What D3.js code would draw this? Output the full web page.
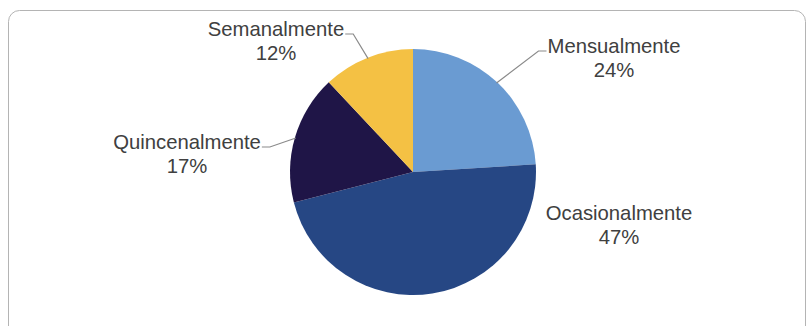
<!DOCTYPE html>
<html>
<head>
<meta charset="utf-8">
<script src="https://cdn.jsdelivr.net/npm/d3@7"></script>
<style>
  html, body { margin: 0; padding: 0; background: #fff; }
  svg { display: block; }
</style>
</head>
<body>
<svg id="chart" width="807" height="326"></svg>
<script>
// Frequency categories and their shares (%), in clockwise order from 12 o'clock
const categories = ["Mensualmente", "Ocasionalmente", "Quincenalmente", "Semanalmente"];
const shares = [24, 47, 17, 12];
const sliceColors = ["#6a9bd2", "#264784", "#1f1547", "#f4c144"];

// Label placement: text centre offset from the pie centre, and which side the leader leaves from
const labelLayout = [
  { dx: 201, dy: -119, side: "left",  leader: true },
  { dx: 206, dy: 48,   side: "none",  leader: false },
  { dx: -226, dy: -23, side: "right", leader: true },
  { dx: -137, dy: -136, side: "right", leader: true }
];

const width = 807, height = 326;
const cx = 413, cy = 172, radius = 123;
const fontSize = 20.3, lineGap = 23.5;

const svg = d3.select("#chart");

// Rounded frame around the chart area
svg.append("rect")
  .attr("x", 8.5).attr("y", 10.5)
  .attr("width", 797).attr("height", 330)
  .attr("rx", 11).attr("ry", 11)
  .attr("fill", "#fff")
  .attr("stroke", "#b4b4b4")
  .attr("stroke-width", 1);

const data = categories.map((c, i) => ({ name: c, value: shares[i], color: sliceColors[i], layout: labelLayout[i] }));

const pie = d3.pie().value(d => d.value).sort(null);
const arcs = pie(data);
const arc = d3.arc().innerRadius(0).outerRadius(radius);
const edgeArc = d3.arc().innerRadius(radius - 1).outerRadius(radius - 1);

const g = svg.append("g").attr("transform", `translate(${cx},${cy})`);

g.selectAll("path.slice")
  .data(arcs)
  .join("path")
  .attr("class", "slice")
  .attr("d", arc)
  .attr("fill", d => d.data.color);

// Text labels: category name over its percentage
const labels = g.selectAll("g.label")
  .data(arcs)
  .join("g")
  .attr("class", "label")
  .attr("transform", d => `translate(${d.data.layout.dx},${d.data.layout.dy})`);

labels.append("text")
  .attr("text-anchor", "middle")
  .attr("font-family", "Liberation Sans, Arial, sans-serif")
  .attr("font-size", fontSize)
  .attr("fill", "#404040")
  .attr("y", 0)
  .text(d => d.data.name);

labels.append("text")
  .attr("text-anchor", "middle")
  .attr("font-family", "Liberation Sans, Arial, sans-serif")
  .attr("font-size", fontSize)
  .attr("fill", "#404040")
  .attr("y", lineGap)
  .text(d => d.data.value + "%");

// Leader lines from the slice edge to the label
labels.each(function(d) {
  const L = d.data.layout;
  if (!L.leader) return;
  const textNode = d3.select(this).select("text").node();
  const w = textNode.getComputedTextLength();
  const half = w / 2;
  const yLine = L.dy - 2;
  const xText = L.side === "left" ? L.dx - half - 1 : L.dx + half + 1;
  const xElbow = L.side === "left" ? xText - 8 : xText + 8;
  const [ex, ey] = edgeArc.centroid(d);
  g.append("polyline")
    .attr("points", `${xText},${yLine} ${xElbow},${yLine} ${ex},${ey}`)
    .attr("fill", "none")
    .attr("stroke", "#8a8a8a")
    .attr("stroke-width", 1.2);
});
</script>
</body>
</html>
